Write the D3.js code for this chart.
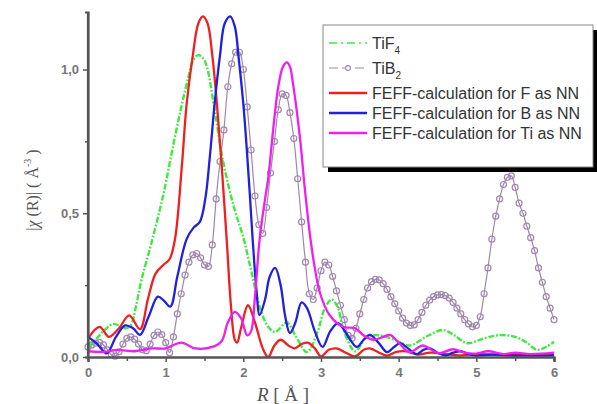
<!DOCTYPE html>
<html><head><meta charset="utf-8">
<script src="https://cdn.jsdelivr.net/npm/d3@7"></script>
<style>body{margin:0;background:#fff}svg{display:block}</style>
</head><body><svg id="c" width="597" height="404"></svg>
<script>
// ---- data ----
const xTicks = [0,1,2,3,4,5,6];
const yTicks = [0,0.5,1.0];
const seriesNames = ["TiF4","TiB2","FEFF-calculation for F as NN","FEFF-calculation for B as NN","FEFF-calculation for Ti as NN"];

// TiB2 measured points, R step 0.05 from 0 to 6
const tib2Step = 0.05;
const tib2 = [0.035,0.042,0.048,0.050,0.042,0.025,0.008,0.003,0.018,0.045,
0.065,0.070,0.062,0.045,0.025,0.022,0.045,0.075,0.087,0.078,
0.050,0.015,0.07,0.15,0.22,0.285,0.33,0.355,0.36,0.345,
0.32,0.315,0.39,0.55,0.68,0.79,0.94,1.02,1.06,1.06,
1.00,0.87,0.72,0.56,0.46,0.43,0.52,0.64,0.75,0.86,
0.915,0.91,0.85,0.76,0.62,0.47,0.33,0.22,0.20,0.24,
0.30,0.33,0.32,0.28,0.23,0.18,0.13,0.075,0.065,0.10,
0.15,0.20,0.24,0.262,0.27,0.268,0.255,0.235,0.21,0.185,
0.16,0.135,0.118,0.11,0.112,0.13,0.155,0.18,0.198,0.21,
0.216,0.217,0.214,0.205,0.19,0.17,0.15,0.13,0.115,0.105,
0.11,0.14,0.22,0.31,0.41,0.49,0.55,0.60,0.625,0.63,
0.59,0.535,0.50,0.455,0.415,0.37,0.31,0.26,0.21,0.17,0.13];

const tif4R = [0,0.1,0.2,0.33,0.48,0.55,0.62,0.69,0.82,0.97,1.1,1.21,1.29,1.35,1.42,1.48,1.53,1.63,1.74,1.87,2.0,2.11,2.21,2.32,2.41,2.56,2.68,2.82,2.95,3.05,3.14,3.22,3.28,3.44,3.59,3.76,3.95,4.14,4.35,4.57,4.72,4.88,5.1,5.3,5.5,5.65,5.78,5.9,6.0];
const tif4V = [0.035,0.06,0.09,0.115,0.10,0.11,0.18,0.27,0.40,0.565,0.74,0.88,0.97,1.03,1.05,1.04,1.01,0.86,0.68,0.53,0.415,0.29,0.175,0.105,0.087,0.12,0.07,0.017,0.083,0.17,0.20,0.17,0.105,0.02,0.07,0.075,0.06,0.04,0.07,0.094,0.075,0.048,0.065,0.076,0.07,0.05,0.025,0.035,0.053];

const fR = [0,0.15,0.27,0.40,0.53,0.67,0.77,0.87,0.97,1.05,1.12,1.21,1.27,1.35,1.42,1.48,1.54,1.60,1.66,1.72,1.79,1.84,1.89,1.92,1.97,2.06,2.15,2.25,2.32,2.40,2.48,2.58,2.66,2.75,2.83,2.92,3.0,3.1,3.2,3.32,3.44,3.55,3.63,3.75,3.85,3.97,4.1,4.25,4.4,4.6,4.8,5.0,5.3,5.6,6.0];
const fV = [0.065,0.105,0.07,0.10,0.145,0.097,0.20,0.29,0.32,0.34,0.41,0.67,0.88,1.05,1.16,1.185,1.16,1.05,0.88,0.67,0.39,0.18,0.06,0.05,0.10,0.18,0.12,0.03,0.0,0.04,0.06,0.04,0.03,0.045,0.05,0.03,0.002,0.025,0.03,0.015,0.002,0.025,0.03,0.015,0.005,0.018,0.02,0.008,0.015,0.01,0.006,0.01,0.008,0.01,0.008];

const bR = [0,0.12,0.24,0.36,0.48,0.58,0.67,0.78,0.9,0.98,1.06,1.15,1.27,1.36,1.44,1.51,1.57,1.63,1.70,1.76,1.83,1.89,1.94,2.0,2.04,2.08,2.12,2.17,2.21,2.28,2.34,2.41,2.48,2.54,2.6,2.67,2.75,2.82,2.92,3.02,3.12,3.22,3.33,3.46,3.55,3.63,3.74,3.85,3.94,4.02,4.12,4.23,4.32,4.4,4.5,4.6,4.7,4.8,4.9,5.0,5.2,5.5,6.0];
const bV = [0.07,0.045,0.013,0.07,0.11,0.10,0.077,0.14,0.21,0.195,0.175,0.28,0.41,0.45,0.47,0.55,0.70,0.88,1.05,1.16,1.185,1.15,1.04,0.88,0.74,0.58,0.41,0.23,0.146,0.20,0.28,0.31,0.25,0.14,0.083,0.12,0.19,0.17,0.09,0.035,0.09,0.118,0.08,0.035,0.06,0.077,0.05,0.017,0.035,0.048,0.03,0.01,0.025,0.03,0.015,0.005,0.015,0.02,0.01,0.005,0.008,0.005,0.006];

const tiR = [0,0.2,0.38,0.6,0.82,1.0,1.2,1.38,1.6,1.72,1.8,1.89,1.97,2.05,2.1,2.15,2.21,2.28,2.32,2.38,2.45,2.51,2.56,2.6,2.64,2.73,2.79,2.86,2.92,2.99,3.11,3.28,3.44,3.55,3.68,3.8,3.89,4.0,4.14,4.31,4.45,4.53,4.7,4.85,5.0,5.15,5.35,5.5,5.7,6.0];
const tiV = [0.02,0.018,0.025,0.02,0.03,0.03,0.05,0.03,0.035,0.055,0.12,0.157,0.135,0.075,0.09,0.21,0.41,0.55,0.62,0.78,0.94,1.01,1.025,1.01,0.95,0.76,0.59,0.42,0.31,0.22,0.146,0.105,0.10,0.075,0.06,0.07,0.077,0.05,0.017,0.04,0.02,0.013,0.027,0.015,0.012,0.02,0.01,0.015,0.01,0.015];

const colors = {tif4:"#40e840", tib2:"#a086ae", f:"#ee2020", b:"#2020dd", ti:"#ee20ee"};

// ---- chart ----
const svg = d3.select("#c");
svg.append("rect").attr("width",597).attr("height",404).attr("fill","#fff");
const x = d3.scaleLinear().domain([0,6]).range([88,554]);
const y = d3.scaleLinear().domain([0,1.2]).range([357,12]);

const zip = (a,b)=>a.map((r,i)=>[r,b[i]]);
const line = d3.line().x(d=>x(d[0])).y(d=>y(d[1])).curve(d3.curveCatmullRom.alpha(0.5));

const plot = svg.append("g");
// TiB2
const tib2Pts = tib2.map((v,i)=>[i*tib2Step, v]);
plot.append("path").attr("d", d3.line().x(d=>x(d[0])).y(d=>y(d[1])).curve(d3.curveCatmullRom)(tib2Pts))
  .attr("fill","none").attr("stroke",colors.tib2).attr("stroke-width",1.2);
plot.selectAll("circle.tib2").data(tib2Pts).join("circle").attr("class","tib2")
  .attr("cx",d=>x(d[0])).attr("cy",d=>y(d[1])).attr("r",3)
  .attr("fill","none").attr("stroke",colors.tib2).attr("stroke-width",1.2);
// TiF4
plot.append("path").attr("d", line(zip(tif4R,tif4V))).attr("fill","none")
  .attr("stroke",colors.tif4).attr("stroke-width",2.4).attr("stroke-dasharray","6,1.8,1.8,1.8");
// FEFF lines
[[fR,fV,colors.f],[bR,bV,colors.b],[tiR,tiV,colors.ti]].forEach(([r,v,c])=>{
  plot.append("path").attr("d", line(zip(r,v))).attr("fill","none")
    .attr("stroke",c).attr("stroke-width",2.3).attr("stroke-linejoin","round");
});

// axes
const fmt = d=>d3.format(".1f")(d).replace(".",",");
const axColor = "#555";
const gy = svg.append("g").attr("transform","translate(88,0)")
  .call(d3.axisLeft(y).tickValues(yTicks).tickFormat(fmt).tickSize(5).tickPadding(4));
const gym = svg.append("g").attr("transform","translate(88,0)")
  .call(d3.axisLeft(y).tickValues([0.25,0.75]).tickFormat("").tickSize(3));
const gx = svg.append("g").attr("transform","translate(0,357)")
  .call(d3.axisBottom(x).tickValues(xTicks).tickFormat(d3.format("d")).tickSize(5).tickPadding(6));
const gxm = svg.append("g").attr("transform","translate(0,357)")
  .call(d3.axisBottom(x).tickValues([0.5,1.5,2.5,3.5,4.5,5.5]).tickFormat("").tickSize(4));
[gy,gym,gx,gxm].forEach(g=>{
  g.select(".domain").attr("stroke",axColor).attr("stroke-width",2.2);
  g.selectAll(".tick line").attr("stroke",axColor).attr("stroke-width",1.5);
  g.selectAll(".tick text").attr("fill","#777").attr("font-family","Liberation Sans, Arial, sans-serif")
    .attr("font-size",13).attr("font-weight","bold");
});
gy.select(".domain").attr("d","M0,12V357");

// axis titles
const yt = svg.append("text").attr("transform","translate(38,190) rotate(-90)")
  .attr("text-anchor","middle").attr("font-family","Liberation Serif, Times New Roman, serif")
  .attr("font-size",16).attr("fill","#555");
yt.append("tspan").text("|");
yt.append("tspan").attr("font-style","italic").text("χ");
yt.append("tspan").text(" (R)| ( Å");
yt.append("tspan").attr("font-size",10).attr("dy",-7).text("-3");
yt.append("tspan").attr("dy",7).text(" )");

const xt = svg.append("text").attr("x",283).attr("y",401).attr("text-anchor","middle")
  .attr("font-family","Liberation Serif, Times New Roman, serif").attr("font-size",19).attr("fill","#555");
xt.append("tspan").attr("font-style","italic").text("R");
xt.append("tspan").text(" [ Å ]");

// legend
const lg = svg.append("g");
lg.append("rect").attr("x",328).attr("y",30).attr("width",270).attr("height",142).attr("fill","#000");
lg.append("rect").attr("x",323).attr("y",25).attr("width",270).attr("height",142)
  .attr("fill","#fff").attr("stroke","#888").attr("stroke-width",1);
const rows = [
  {y:43, name:seriesNames[0], sub:"4", base:"TiF", type:"tif4"},
  {y:68, name:seriesNames[1], sub:"2", base:"TiB", type:"tib2"},
  {y:93, name:seriesNames[2], type:"f"},
  {y:113, name:seriesNames[3], type:"b"},
  {y:133, name:seriesNames[4], type:"ti"}];
rows.forEach(r=>{
  if (r.type==="tif4") {
    lg.append("line").attr("x1",329).attr("x2",367).attr("y1",r.y).attr("y2",r.y)
      .attr("stroke",colors.tif4).attr("stroke-width",1.5).attr("stroke-dasharray","8,4,2,4");
  } else if (r.type==="tib2") {
    lg.append("line").attr("x1",329).attr("x2",367).attr("y1",r.y).attr("y2",r.y)
      .attr("stroke",colors.tib2).attr("stroke-width",1.2).attr("stroke-dasharray","9,4");
    lg.append("circle").attr("cx",348).attr("cy",r.y).attr("r",2.4).attr("fill","#fff")
      .attr("stroke",colors.tib2).attr("stroke-width",1.1);
  } else {
    lg.append("line").attr("x1",329).attr("x2",367).attr("y1",r.y).attr("y2",r.y)
      .attr("stroke",colors[r.type]).attr("stroke-width",2.5);
  }
  const t = lg.append("text").attr("x",372).attr("y",r.y+5.5)
    .attr("font-family","Liberation Sans, Arial, sans-serif").attr("font-size",16).attr("fill","#333");
  if (r.sub) {
    t.append("tspan").text(r.base);
    t.append("tspan").attr("font-size",10).attr("dy",5).text(r.sub);
  } else t.text(r.name);
});
</script></body></html>
